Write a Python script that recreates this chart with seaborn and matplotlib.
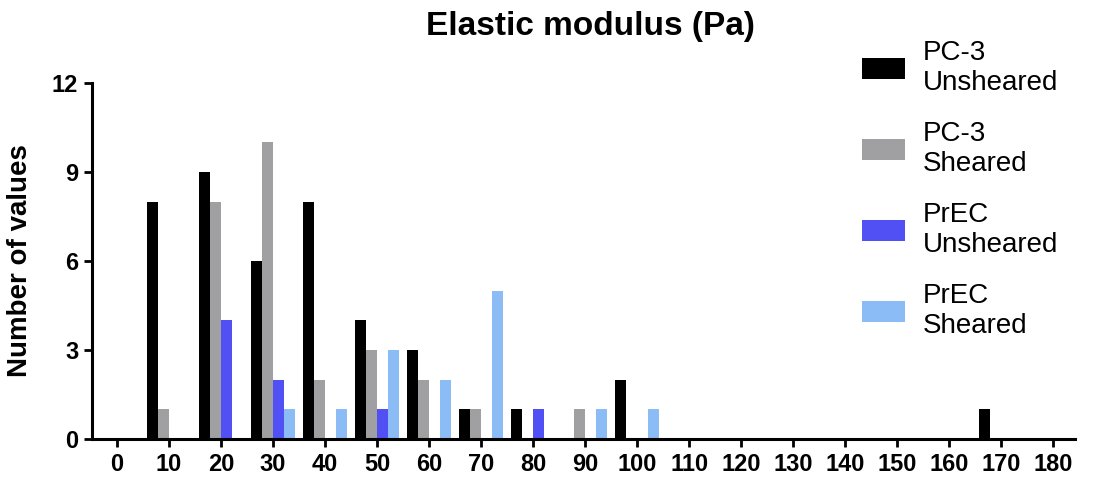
import matplotlib
matplotlib.use("Agg")
import matplotlib.pyplot as plt
import seaborn as sns
import pandas as pd

# histogram bins (Pa) and counts per group
bins = [10, 20, 30, 40, 50, 60, 70, 80, 90, 100, 170]
pc3_unsheared = [8, 9, 6, 8, 4, 3, 1, 1, 0, 2, 1]
pc3_sheared = [1, 8, 10, 2, 3, 2, 1, 0, 1, 0, 0]
prec_unsheared = [0, 4, 2, 0, 1, 0, 0, 1, 0, 0, 0]
prec_sheared = [0, 0, 1, 1, 3, 2, 5, 0, 1, 1, 0]

groups = ["PC-3\nUnsheared", "PC-3\nSheared", "PrEC\nUnsheared", "PrEC\nSheared"]
colors = ["#000000", "#a0a0a3", "#5050f5", "#8cbcf5"]
x_ticks = list(range(0, 190, 10))
y_ticks = [0, 3, 6, 9, 12]

rows = []
for g, vals in zip(groups, [pc3_unsheared, pc3_sheared, prec_unsheared, prec_sheared]):
    for b, v in zip(bins, vals):
        rows.append({"bin": b, "group": g, "count": v})
df = pd.DataFrame(rows)

sns.set_style("ticks", {"axes.edgecolor": "black", "text.color": "black",
                        "axes.labelcolor": "black", "xtick.color": "black",
                        "ytick.color": "black"})
plt.rcParams["font.family"] = ["Liberation Sans", "DejaVu Sans"]

fig = plt.figure(figsize=(10.96, 4.83), dpi=100)
ax = fig.add_axes([0.084, 0.091, 0.897, 0.737])

sns.barplot(data=df, x="bin", y="count", hue="group", hue_order=groups,
            palette=colors, native_scale=True, width=0.85, errorbar=None,
            saturation=1, linewidth=0, edgecolor="none", ax=ax, legend=True)

ax.set_xlim(-4.75, 184.2)
ax.set_ylim(0, 12)
ax.set_xticks(x_ticks)
ax.set_xticklabels([str(t) for t in x_ticks], fontweight="bold", fontsize=17)
ax.set_yticks(y_ticks)
ax.set_yticklabels([str(t) for t in y_ticks], fontweight="bold", fontsize=17)
ax.set_xlabel("")
ax.set_ylabel("Number of values", fontweight="bold", fontsize=20)
ax.yaxis.set_label_coords(-0.06, 0.5)
ax.tick_params(width=2, length=6, direction="out", pad=4)
for s in ["left", "bottom"]:
    ax.spines[s].set_linewidth(2.2)
sns.despine(ax=ax)

fig.text(0.539, 0.945, "Elastic modulus (Pa)", ha="center", va="center",
         fontweight="bold", fontsize=24)

handles, labels = ax.get_legend_handles_labels()
ax.get_legend().remove()
fig.legend(handles, groups, loc="upper left", bbox_to_anchor=(0.776, 0.94),
           frameon=False, fontsize=20, handlelength=1.55, handleheight=0.8,
           labelspacing=0.9, handletextpad=0.65, borderaxespad=0)

fig.savefig("out.png", dpi=100)
